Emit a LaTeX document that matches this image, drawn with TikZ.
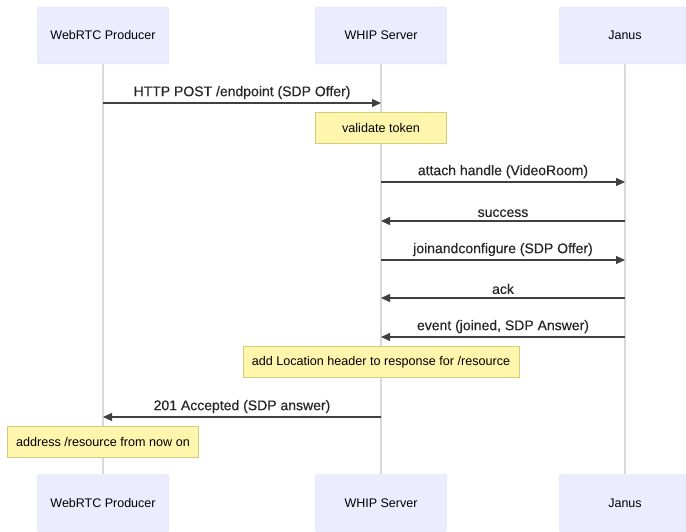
\documentclass[tikz,border=0pt]{standalone}
\usepackage{fontspec}
\setmainfont{Liberation Sans}
\newfontfamily\msgfont[FakeBold=0.4]{Liberation Sans}
\usetikzlibrary{arrows.meta}
\definecolor{actorfill}{HTML}{ECECFF}
\definecolor{actorline}{HTML}{D4D4F7}
\definecolor{notefill}{HTML}{FFF5AD}
\definecolor{noteline}{HTML}{CFCF7A}
\tikzset{
  actor/.style={draw=actorline, fill=actorfill, rounded corners=2pt,
    minimum width=131pt, minimum height=57pt, font=\fontsize{12.5}{14}\selectfont},
  note/.style={draw=noteline, fill=notefill, minimum height=31pt,
    inner xsep=8.5pt, font=\fontsize{12.6}{14}\selectfont},
  lifeline/.style={draw=black!15, line width=1.3pt},
  msg/.style={draw=black!75, line width=1.2pt,
    -{Triangle[length=9pt,width=8pt]}},
  msglabel/.style={font=\msgfont\fontsize{14}{16}\selectfont, text=black!85, above=0pt}
}
\begin{document}
\begin{tikzpicture}[x=1pt,y=-1pt]
\newcommand{\xprod}{103}
\newcommand{\xwhip}{381}
\newcommand{\xjanus}{625}
\useasboundingbox (0,0) rectangle (686,532);

% participants
\node[actor] (prodtop) at (\xprod,35.5) {WebRTC Producer};
\node[actor] (whiptop) at (\xwhip,35.5) {WHIP Server};
\node[actor] (janustop) at (\xjanus,35.5) {Janus};
\node[actor] (prodbot) at (\xprod,503) {WebRTC Producer};
\node[actor] (whipbot) at (\xwhip,503) {WHIP Server};
\node[actor] (janusbot) at (\xjanus,503) {Janus};

\draw[lifeline] (prodtop) -- (prodbot);
\draw[lifeline] (whiptop) -- (whipbot);
\draw[lifeline] (janustop) -- (janusbot);

\foreach \n/\y in {1/103,2/182,3/221,4/260,5/298,6/337,7/417} {
  \coordinate (p\n) at (\xprod,\y);
  \coordinate (w\n) at (\xwhip,\y);
  \coordinate (j\n) at (\xjanus,\y);
}

% messages
\draw[msg] (p1) -- node[msglabel] {HTTP POST /endpoint (SDP Offer)} (w1);
\node[note, minimum width=131pt] (validate) at (\xwhip,127.5) {validate token};
\draw[msg] (w2) -- node[msglabel] {attach handle (VideoRoom)} (j2);
\draw[msg] (j3) -- node[msglabel] {success} (w3);
\draw[msg] (w4) -- node[msglabel] {joinandconfigure (SDP Offer)} (j4);
\draw[msg] (j5) -- node[msglabel] {ack} (w5);
\draw[msg] (j6) -- node[msglabel] {event (joined, SDP Answer)} (w6);
\node[note] (location) at (\xwhip,362) {add Location header to response for /resource};
\draw[msg] (w7) -- node[msglabel] {201 Accepted (SDP answer)} (p7);
\node[note] (address) at (\xprod,442) {address /resource from now on};
\end{tikzpicture}
\end{document}
